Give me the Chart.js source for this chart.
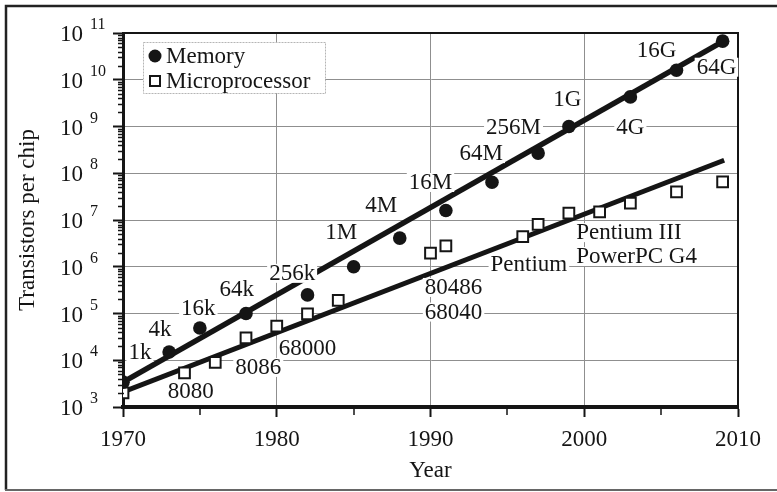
<!DOCTYPE html>
<html>
<head>
<meta charset="utf-8">
<script src="https://cdn.jsdelivr.net/npm/chart.js@4.4.0/dist/chart.umd.min.js"></script>
<style>
  html,body{margin:0;padding:0;background:#fff;}
  #wrap{width:777px;height:492px;}
</style>
</head>
<body>
<div id="wrap"><canvas id="chart" width="777" height="492"></canvas></div>
<script>
// memory chips (filled circles)
const memYears  = [1970, 1973, 1975, 1978, 1982, 1985, 1988, 1991, 1994, 1997, 1999, 2003, 2006, 2009];
const memValues = [3400, 15000, 49000, 1e5, 2.5e5, 1e6, 4.1e6, 1.6e7, 6.4e7, 2.7e8, 1e9, 4.3e9, 1.6e10, 6.7e10];
// microprocessors (open squares)
const cpuYears  = [1970, 1974, 1976, 1978, 1980, 1982, 1984, 1990, 1991, 1996, 1997, 1999, 2001, 2003, 2006, 2009];
const cpuValues = [2000, 5400, 9000, 3e4, 5.4e4, 9.8e4, 1.9e5, 1.95e6, 2.8e6, 4.4e6, 8.1e6, 1.4e7, 1.5e7, 2.3e7, 4e7, 6.5e7];
// fitted trend lines (end points)
const memTrendYears  = [1970, 2009.2];
const memTrendValues = [3400, 7.1e10];
const cpuTrendYears  = [1970, 2009.1];
const cpuTrendValues = [2100, 1.9e8];
// point annotations
const memTags      = ['1k','4k','16k','64k','256k','1M','4M','16M','64M','256M','1G','4G','16G','64G'];
const memTagYears  = [1971.1, 1972.4, 1974.9, 1977.4, 1981.0, 1984.2, 1986.8, 1990.0, 1993.3, 1995.4, 1998.9, 2003.0, 2004.7, 2008.6];
const memTagValues = [1.5e4, 4.7e4, 1.3e5, 3.3e5, 7.4e5, 5.5e6, 2.1e7, 6.5e7, 2.7e8, 1.0e9, 3.9e9, 1.0e9, 4.4e10, 1.9e10];
const cpuTags      = ['8080','8086','68000','80486','68040','Pentium','Pentium III','PowerPC G4'];
const cpuTagYears  = [1974.4, 1978.8, 1982.0, 1991.5, 1991.5, 1996.4, 2002.9, 2003.4];
const cpuTagValues = [2200, 7200, 1.8e4, 3.7e5, 1.1e5, 1.15e6, 5.5e6, 1.7e6];
// axis
const yearTicks = [1970, 1980, 1990, 2000, 2010];
const decades = [1e3, 1e4, 1e5, 1e6, 1e7, 1e8, 1e9, 1e10, 1e11];

const pts = (xs, ys) => xs.map((x, i) => ({x: x, y: ys[i]}));
const INK = '#151515';
const SERIF = '"Liberation Serif", "Times New Roman", serif';
Chart.defaults.font.family = SERIF;
Chart.defaults.color = INK;

const decorations = {
  id: 'decorations',
  afterDatasetsDraw(chart) {
    const {ctx, chartArea: a, scales: {x, y}} = chart;
    ctx.save();
    // top / right frame of plot
    ctx.strokeStyle = INK; ctx.lineWidth = 2;
    ctx.beginPath();
    ctx.moveTo(a.left, a.top); ctx.lineTo(a.right, a.top); ctx.lineTo(a.right, a.bottom);
    ctx.stroke();

    // minor ticks
    ctx.lineWidth = 1.5;
    ctx.beginPath();
    for (let n = 3; n < 11; n++) {
      for (let k = 2; k < 10; k++) {
        const py = Math.round(y.getPixelForValue(k * Math.pow(10, n))) + 0.5;
        ctx.moveTo(a.left - 5, py); ctx.lineTo(a.left + 1, py);
      }
    }
    for (let yr = 1975; yr < 2010; yr += 10) {
      const px = Math.round(x.getPixelForValue(yr));
      ctx.moveTo(px, a.bottom); ctx.lineTo(px, a.bottom + 8);
    }
    ctx.stroke();

    // text tags with white backing
    ctx.font = '23px ' + SERIF;
    ctx.textAlign = 'center';
    ctx.textBaseline = 'middle';
    const tag = (txt, yr, v) => {
      const px = x.getPixelForValue(yr), py = y.getPixelForValue(v);
      const w = ctx.measureText(txt).width;
      ctx.fillStyle = '#fff';
      ctx.fillRect(px - w / 2 - 2, py - 9, w + 4, 19);
      ctx.fillStyle = INK;
      ctx.fillText(txt, px, py + 1);
    };
    memTags.forEach((t, i) => tag(t, memTagYears[i], memTagValues[i]));
    cpuTags.forEach((t, i) => tag(t, cpuTagYears[i], cpuTagValues[i]));

    // legend box
    const lx = a.left + 20, ly = a.top + 9;
    ctx.fillStyle = '#fff';
    ctx.fillRect(lx, ly, 182, 51);
    ctx.strokeStyle = '#b5b5b5'; ctx.lineWidth = 1;
    ctx.setLineDash([2, 1]);
    ctx.strokeRect(lx + 0.5, ly + 0.5, 182, 51);
    ctx.setLineDash([]);
    ctx.fillStyle = INK;
    ctx.beginPath(); ctx.arc(lx + 12, ly + 14, 6.5, 0, Math.PI * 2); ctx.fill();
    ctx.strokeStyle = INK; ctx.lineWidth = 2;
    ctx.strokeRect(lx + 7, ly + 34, 10, 10);
    ctx.textAlign = 'left';
    ctx.fillText(chart.data.datasets[0].label, lx + 23, ly + 15);
    ctx.fillText(chart.data.datasets[1].label, lx + 23, ly + 40);
    ctx.restore();
  },
  afterDraw(chart) {
    const {ctx, chartArea: a, scales: {y}} = chart;
    ctx.save();
    // y tick labels 10^n
    ctx.fillStyle = INK;
    ctx.textBaseline = 'middle';
    y.ticks.forEach(t => {
      const py = y.getPixelForValue(t.value);
      const n = Math.round(Math.log10(t.value));
      ctx.font = '23px ' + SERIF;
      ctx.textAlign = 'right';
      ctx.fillText('10', a.left - 40, py + 2);
      ctx.font = '16px ' + SERIF;
      ctx.textAlign = 'left';
      ctx.fillText(String(n), a.left - 33, py - 8);
    });
    // outer frame
    ctx.strokeStyle = '#222'; ctx.lineWidth = 2.5;
    ctx.beginPath();
    ctx.moveTo(6, 490); ctx.lineTo(6, 6); ctx.lineTo(777, 6);
    ctx.stroke();
    ctx.strokeStyle = '#666'; ctx.lineWidth = 2;
    ctx.beginPath(); ctx.moveTo(5, 490); ctx.lineTo(777, 490); ctx.stroke();
    ctx.restore();
  }
};

new Chart(document.getElementById('chart'), {
  type: 'scatter',
  data: {
    datasets: [
      {label: 'Memory', data: pts(memYears, memValues), pointStyle: 'circle', pointRadius: 6.8,
       backgroundColor: INK, borderColor: INK, borderWidth: 0, order: 1},
      {label: 'Microprocessor', data: pts(cpuYears, cpuValues), pointStyle: 'rect', pointRadius: 7.6,
       backgroundColor: '#fff', borderColor: INK, borderWidth: 2, order: 1},
      {type: 'line', label: 'memTrend', data: pts(memTrendYears, memTrendValues), borderColor: INK,
       borderWidth: 5.5, pointRadius: 0, fill: false, tension: 0, order: 2},
      {type: 'line', label: 'cpuTrend', data: pts(cpuTrendYears, cpuTrendValues), borderColor: INK,
       borderWidth: 5, pointRadius: 0, fill: false, tension: 0, order: 2}
    ]
  },
  options: {
    responsive: false,
    animation: false,
    layout: {padding: {left: 0, top: 33, right: 39, bottom: 0}},
    plugins: {legend: {display: false}, tooltip: {enabled: false}},
    scales: {
      x: {
        type: 'linear', min: 1970, max: 2010,
        afterBuildTicks: s => { s.ticks = yearTicks.map(v => ({value: v})); },
        afterFit: s => { s.height = 85; },
        ticks: {font: {size: 23}, padding: 9, maxRotation: 0, callback: v => String(v)},
        grid: {color: '#8f8f8f', lineWidth: 1, tickLength: 10, tickColor: INK, tickWidth: 2},
        border: {color: INK, width: 4},
        title: {display: true, text: 'Year', font: {size: 23}, padding: {top: 0, bottom: 7}}
      },
      y: {
        type: 'logarithmic', min: 1e3, max: 1e11,
        afterBuildTicks: s => { s.ticks = decades.map(v => ({value: v})); },
        afterFit: s => { s.width = 123; },
        ticks: {display: false},
        grid: {color: '#8f8f8f', lineWidth: 1, tickLength: 10, tickColor: INK, tickWidth: 2},
        border: {color: INK, width: 3},
        title: {display: true, text: 'Transistors per chip', font: {size: 23}, padding: {top: 14, bottom: 0}}
      }
    }
  },
  plugins: [decorations]
});
</script>
</body>
</html>
